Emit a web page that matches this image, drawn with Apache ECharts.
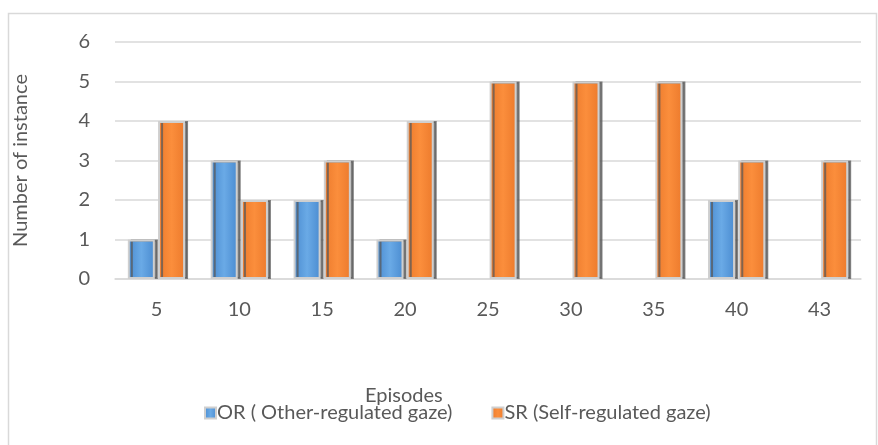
<!DOCTYPE html>
<html>
<head>
<meta charset="utf-8">
<script src="https://cdn.jsdelivr.net/npm/echarts@6/dist/echarts.min.js"></script>
<style>
  html, body { margin: 0; padding: 0; background: #fff; }
  #chart { width: 878px; height: 445px; }
</style>
</head>
<body>
<div id="chart"></div>
<script>
// Chart data
const episodes = ['5', '10', '15', '20', '25', '30', '35', '40', '43'];
const orValues = [1, 3, 2, 1, 0, 0, 0, 2, 0];
const srValues = [4, 2, 3, 4, 5, 5, 5, 3, 3];
const yTicks = [0, 1, 2, 3, 4, 5, 6];

const TEXT = '#595959';
const FONT = 'Lato, "Open Sans", sans-serif';
const FS = 20;

// horizontal gradient so the front face looks a bit rounded
const face = (dark, mid) => new echarts.graphic.LinearGradient(0, 0, 1, 0, [
  { offset: 0, color: dark },
  { offset: 0.5, color: mid },
  { offset: 1, color: dark },
]);

const barStyle = (dark, mid) => ({
  color: face(dark, mid),
  borderColor: '#cfcfcf',
  borderWidth: 2,
  shadowColor: 'rgba(90,90,90,0.75)',
  shadowOffsetX: 3,
  shadowOffsetY: 0,
  shadowBlur: 0,
});

const chart = echarts.init(document.getElementById('chart'));

chart.setOption({
  animation: false,
  textStyle: { fontFamily: FONT },
  graphic: [
    // outer chart border (left and top edges visible)
    {
      type: 'rect',
      shape: { x: 8.5, y: 13.5, width: 868, height: 440 },
      style: { fill: 'none', stroke: '#d9d9d9', lineWidth: 1.5 },
      silent: true,
    },
    // x axis title, placed off-centre like the original
    {
      type: 'text',
      left: 365,
      top: 386,
      style: { text: 'Episodes', fill: TEXT, fontSize: FS, fontFamily: FONT },
      silent: true,
    },
  ],
  grid: { left: 115, right: 17, top: 42, bottom: 166 },
  legend: {
    left: 204,
    top: 403,
    padding: 0,
    itemWidth: 11,
    itemHeight: 11,
    itemGap: 39,
    icon: 'rect',
    textStyle: { color: TEXT, fontSize: FS, fontFamily: FONT, padding: [0, 0, 0, -4] },
    data: ['OR ( Other-regulated gaze)', 'SR (Self-regulated gaze)'],
  },
  xAxis: {
    type: 'category',
    data: episodes,
    axisLine: { lineStyle: { color: '#d9d9d9', width: 1.5 } },
    axisTick: { show: false },
    axisLabel: { color: TEXT, fontSize: FS, margin: 21 },
  },
  yAxis: {
    type: 'value',
    min: yTicks[0],
    max: yTicks[yTicks.length - 1],
    interval: 1,
    name: 'Number of instance',
    nameLocation: 'middle',
    nameGap: 84,
    nameTextStyle: { color: TEXT, fontSize: FS },
    axisLine: { show: false },
    axisTick: { show: false },
    axisLabel: { color: TEXT, fontSize: FS, margin: 25 },
    splitLine: { lineStyle: { color: '#d9d9d9', width: 1.5 } },
  },
  series: [
    {
      name: 'OR ( Other-regulated gaze)',
      type: 'bar',
      barWidth: 27,
      barGap: '12%',
      data: orValues.map(v => (v === 0 ? '-' : v)),
      itemStyle: barStyle('#4a8bd0', '#6aaae6'),
    },
    {
      name: 'SR (Self-regulated gaze)',
      type: 'bar',
      barWidth: 27,
      data: srValues.map(v => (v === 0 ? '-' : v)),
      itemStyle: barStyle('#ec7a2c', '#fb8e3c'),
    },
  ],
});
</script>
</body>
</html>
